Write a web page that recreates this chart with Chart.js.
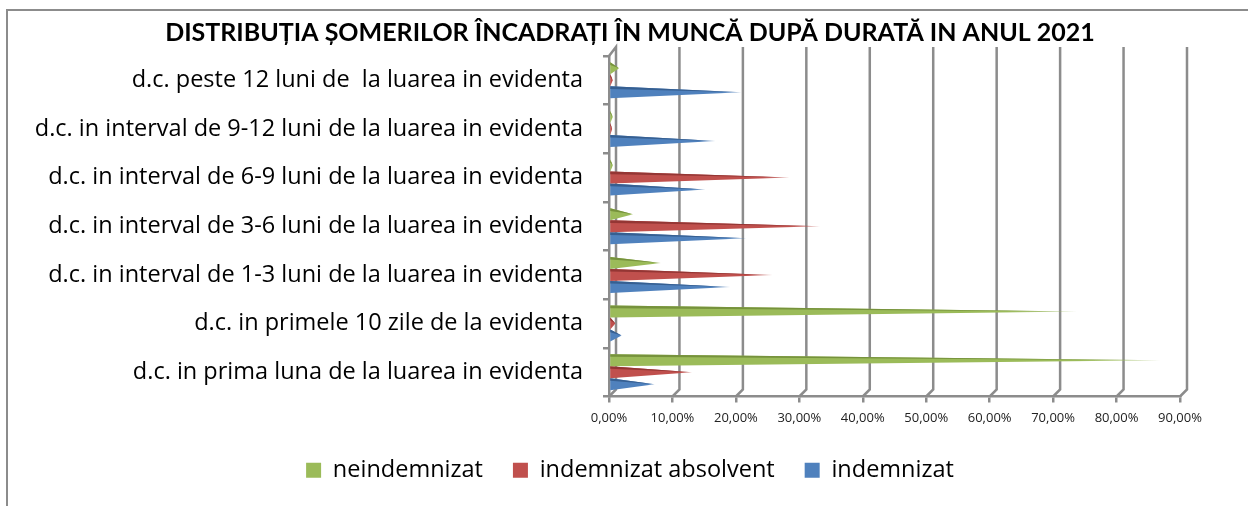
<!DOCTYPE html>
<html>
<head>
<meta charset="utf-8">
<script src="https://cdn.jsdelivr.net/npm/chart.js@4/dist/chart.umd.min.js"></script>
<style>
  html, body { margin: 0; padding: 0; background: #fff; }
  #wrap { position: relative; width: 1248px; height: 506px; overflow: hidden; }
  #frame { position: absolute; left: 6px; top: 9px; width: 2000px; height: 1000px;
           border-top: 2px solid #8c8c8c; border-left: 2px solid #8c8c8c; }
  canvas { position: absolute; left: 0; top: 0; }
</style>
</head>
<body>
<div id="wrap">
  <div id="frame"></div>
  <canvas id="chart" width="1248" height="506"></canvas>
</div>
<script>
// categories, top to bottom
const categories = [
  "d.c. peste 12 luni de  la luarea in evidenta",
  "d.c. in interval de 9-12 luni de la luarea in evidenta",
  "d.c. in interval de 6-9 luni de la luarea in evidenta",
  "d.c. in interval de 3-6 luni de la luarea in evidenta",
  "d.c. in interval de 1-3 luni de la luarea in evidenta",
  "d.c. in primele 10 zile de la evidenta",
  "d.c. in prima luna de la luarea in evidenta"
];

// values in percent
const neindemnizat        = [1.6, 0.6, 0.6, 3.8, 8.2, 73.8, 87.0];
const indemnizatAbsolvent = [0.6, 0.5, 28.5, 33.3, 25.8, 1.0, 13.1];
const indemnizat          = [20.9, 16.8, 15.2, 21.7, 19.1, 2.0, 7.2];

const seriesNames = ["neindemnizat", "indemnizat absolvent", "indemnizat"];
const xMin = 0, xMax = 90, xStep = 10;

const colors = [[155, 187, 89], [192, 80, 77], [79, 129, 189]];
const darks  = [[118, 146, 60], [148, 54, 52], [54, 95, 145]];
const rgba = (c, a) => `rgba(${c[0]},${c[1]},${c[2]},${a})`;

const FONT = "'Open Sans', Lato, sans-serif";
const GRID = "#8c8c8c";

// back wall gridlines with a small 3D offset
const wall3d = {
  id: "wall3d",
  afterLayout(chart) {
    // let the long category labels run into the left padding
    chart.scales.y.left = 0;
  },
  beforeDatasetsDraw(chart) {
    const { ctx, chartArea: a, scales: { x } } = chart;
    ctx.save();
    ctx.strokeStyle = GRID;
    ctx.lineWidth = 2.5;
    x.ticks.forEach((t, i) => {
      const px = x.getPixelForValue(t.value);
      ctx.beginPath();
      if (i === 0) {
        ctx.moveTo(px, a.top);
      } else {
        ctx.moveTo(px + 7, a.top - 9);
      }
      ctx.lineTo(px + 7, a.top - 9);
      ctx.lineTo(px + 7, a.bottom - 7);
      ctx.lineTo(px, a.bottom);
      ctx.stroke();
    });
    ctx.restore();
  }
};

// draw bars as flat cones
const cones = {
  id: "cones",
  beforeDatasetDraw(chart, args) {
    const ctx = chart.ctx;
    const c = colors[args.index], d = darks[args.index];
    ctx.save();
    args.meta.data.forEach(el => {
      const { x, y, base, height } = el.getProps(["x", "y", "base", "height"], true);
      if (Math.abs(x - base) < 1) return;
      const t = y - height / 2, b = y + height / 2;
      const g = ctx.createLinearGradient(base, 0, x, 0);
      g.addColorStop(0, rgba(c, 1));
      g.addColorStop(0.85, rgba(c, 1));
      g.addColorStop(1, rgba(c, 0.45));
      ctx.fillStyle = g;
      ctx.beginPath();
      ctx.moveTo(base, t);
      ctx.lineTo(x, y);
      ctx.lineTo(base, b);
      ctx.closePath();
      ctx.fill();

      const g2 = ctx.createLinearGradient(base, 0, x, 0);
      g2.addColorStop(0, rgba(d, 1));
      g2.addColorStop(0.85, rgba(d, 1));
      g2.addColorStop(1, rgba(d, 0.3));
      ctx.fillStyle = g2;
      ctx.beginPath();
      ctx.moveTo(base, t);
      ctx.lineTo(x, y);
      ctx.lineTo(base, t + height * 0.22);
      ctx.closePath();
      ctx.fill();
    });
    ctx.restore();
    return false;
  }
};

new Chart(document.getElementById("chart"), {
  type: "bar",
  data: {
    labels: categories,
    datasets: [neindemnizat, indemnizatAbsolvent, indemnizat].map((vals, i) => ({
      label: seriesNames[i],
      data: vals,
      backgroundColor: rgba(colors[i], 1),
      borderWidth: 0,
      categoryPercentage: 0.74,
      barPercentage: 1
    }))
  },
  options: {
    indexAxis: "y",
    responsive: false,
    animation: false,
    layout: { padding: { left: 80, right: 68, top: 0, bottom: 14 } },
    plugins: {
      title: {
        display: true,
        text: "DISTRIBUȚIA ȘOMERILOR ÎNCADRAȚI ÎN MUNCĂ DUPĂ DURATĂ IN ANUL 2021",
        color: "#000",
        font: { family: "Lato, sans-serif", size: 25, weight: "bold" },
        padding: { top: 18, bottom: 8 }
      },
      legend: {
        position: "bottom",
        labels: {
          color: "#000",
          font: { family: FONT, size: 23.5 },
          boxWidth: 15,
          boxHeight: 15,
          padding: 30
        }
      },
      tooltip: { enabled: false }
    },
    scales: {
      x: {
        min: xMin,
        max: xMax,
        ticks: {
          stepSize: xStep,
          color: "#222",
          padding: 8,
          font: { family: FONT, size: 13 },
          callback: v => v.toFixed(2).replace(".", ",") + "%"
        },
        grid: { display: true, drawOnChartArea: false, drawTicks: true, tickLength: 6, color: GRID, lineWidth: 2.5 },
        border: { display: true, color: GRID, width: 2.5 },
        afterFit: s => { s.height = 32; }
      },
      y: {
        ticks: {
          color: "#000",
          padding: 20,
          font: { family: FONT, size: 23.5 }
        },
        grid: { display: true, drawOnChartArea: false, drawTicks: true, tickLength: 6, color: GRID, lineWidth: 2.5 },
        border: { display: true, color: GRID, width: 2.5 },
        afterFit: s => { s.width = 529; }
      }
    }
  },
  plugins: [wall3d, cones]
});
</script>
</body>
</html>
